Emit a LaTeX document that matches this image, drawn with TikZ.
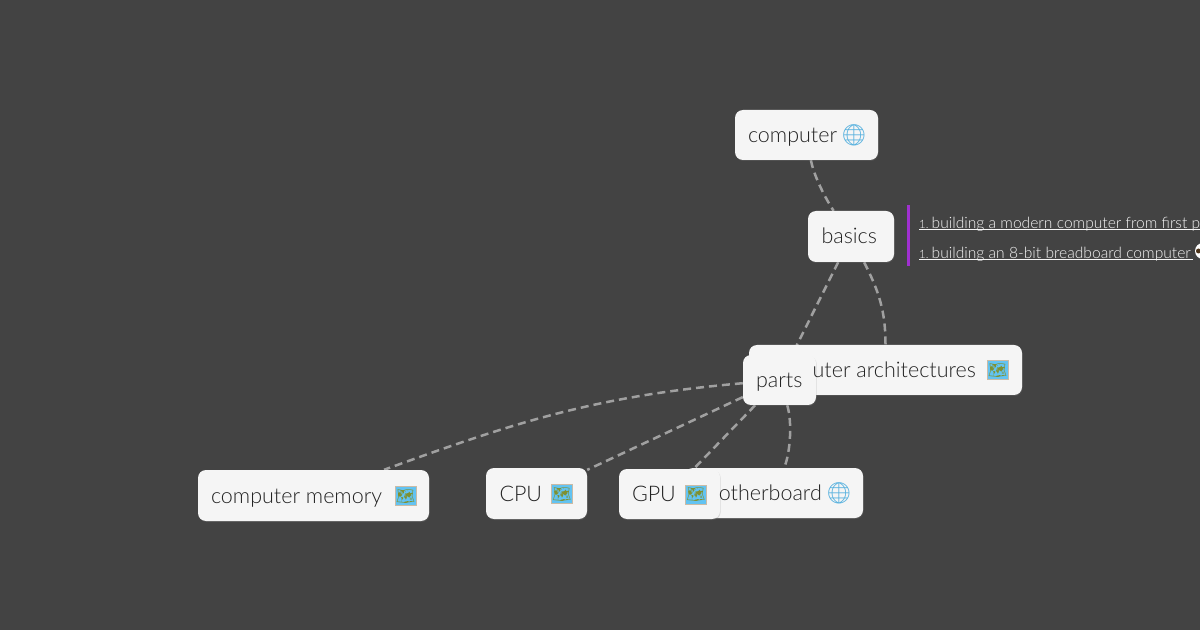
\documentclass[tikz,border=0pt]{standalone}
\usepackage{fontspec}
\setmainfont{Lato Light}
\newfontfamily\emojifont{Noto Emoji}
\usetikzlibrary{positioning,shadows,backgrounds}
\definecolor{background}{HTML}{434343}
\definecolor{boxColor}{HTML}{F5F5F5}
\definecolor{penColor}{HTML}{222222}
\definecolor{edgeColor}{HTML}{A0A0A0}
\definecolor{linkColor}{HTML}{F6F6F6}
\definecolor{barColor}{HTML}{A030D0}
\definecolor{globeColor}{HTML}{55B0DE}
\definecolor{mapColor}{HTML}{62C3F2}
\definecolor{landColor}{HTML}{7F9030}
\definecolor{mapEdge}{HTML}{C9BBA6}
\newcommand{\smallone}{{\fontsize{11.5}{12}\selectfont 1.}\kern-2.5pt{}}
\tikzset{
  box/.style={fill=boxColor, rounded corners=8pt, inner sep=0pt,
    drop shadow={shadow xshift=.6pt, shadow yshift=-1pt, opacity=.25}},
  boxtext/.style={inner sep=0pt, text=penColor, text height=18pt, text depth=3pt,
    font=\fontsize{21.5}{24}\selectfont},
  linktext/.style={inner sep=0pt, anchor=base west, text=linkColor, font=\fontsize{15.6}{17}\selectfont},
  edge/.style={edgeColor, line width=2.5pt, dash pattern=on 8pt off 5pt},
  globeicon/.style={inner sep=0pt, text=globeColor, font=\emojifont\fontsize{21}{21}\selectfont},
  mapicon/.style={inner sep=0pt, fill=mapColor, draw=mapEdge, line width=1pt,
    minimum width=21pt, minimum height=19pt, text=landColor, font=\emojifont\fontsize{15}{15}\selectfont},
}
\begin{document}
\begin{tikzpicture}[x=1pt,y=1pt]
\useasboundingbox (0,0) rectangle (1200,630);
\node[box, minimum width=143pt, minimum height=50pt] (computer) at (806.5,495) {};
\node[box, minimum width=86pt, minimum height=51pt] (basics) at (851,393.5) {};
\node[box, minimum width=273pt, minimum height=50pt] (arch) at (885.5,260) {};
\node[box, minimum width=73pt, minimum height=50pt] (parts) at (779.5,250) {};
\node[box, minimum width=178pt, minimum height=50pt] (board) at (774,137) {};
\node[box, minimum width=101pt, minimum height=50pt] (gpu) at (669.5,136) {};
\node[box, minimum width=101pt, minimum height=51pt] (cpu) at (536.5,136.5) {};
\node[box, minimum width=231pt, minimum height=51pt] (memory) at (313.5,134.5) {};
% connectors lie under the boxes
\begin{scope}[on background layer]
\fill[background] (0,0) rectangle (1200,630);
\draw[edge] (computer) to[out=-80,in=124,looseness=.7] (basics);
\draw[edge] (basics) to[out=-63,in=90] (arch);
\draw[edge] (basics) -- (parts);
\draw[edge] (parts) to[out=185,in=20] (memory);
\draw[edge] (parts) -- (cpu);
\draw[edge] (parts) -- (gpu);
\draw[edge] (parts) to[out=-73,in=68,looseness=.7] (board);
\end{scope}
% labels
\node[boxtext, right=13pt of computer.west] (computerT) {computer};
\node[boxtext, right=13.5pt of basics.west] (basicsT) {basics};
\node[boxtext, anchor=east] (archT) at (976,260) {uter architectures};
\node[boxtext, right=13pt of parts.west] (partsT) {parts};
\node[boxtext, anchor=east] (boardT) at (822,137) {otherboard};
\node[boxtext, right=13pt of gpu.west] (gpuT) {GPU};
\node[boxtext, right=13.5pt of cpu.west] (cpuT) {CPU};
\node[boxtext, right=13pt of memory.west] (memoryT) {computer memory};
% icons
\node[globeicon] (computerI) at (854,494.5) {\symbol{"1F310}};
\node[globeicon] (boardI) at (839,136.5) {\symbol{"1F310}};
\node[mapicon] (archI) at (997.7,259.5) {\symbol{"1F5FA}};
\node[mapicon] (gpuI) at (696,135.5) {\symbol{"1F5FA}};
\node[mapicon] (cpuI) at (562,136) {\symbol{"1F5FA}};
\node[mapicon] (memoryI) at (405.7,134) {\symbol{"1F5FA}};
% the links beside basics
\fill[barColor] (907.3,364) rectangle (910.2,425);
\node[linktext] (linkA) at (919,401.8) {\underline{\smash{\smallone{} building a modern computer from first principles}}};
\node[linktext] (linkB) at (919,371.8) {\underline{\smash{\smallone{} building an 8-bit breadboard computer\,}}};
\fill[white] (1203,379) circle [radius=8];
\fill[black!60!brown] (1198.5,379) circle [radius=2.5];
\end{tikzpicture}
\end{document}
